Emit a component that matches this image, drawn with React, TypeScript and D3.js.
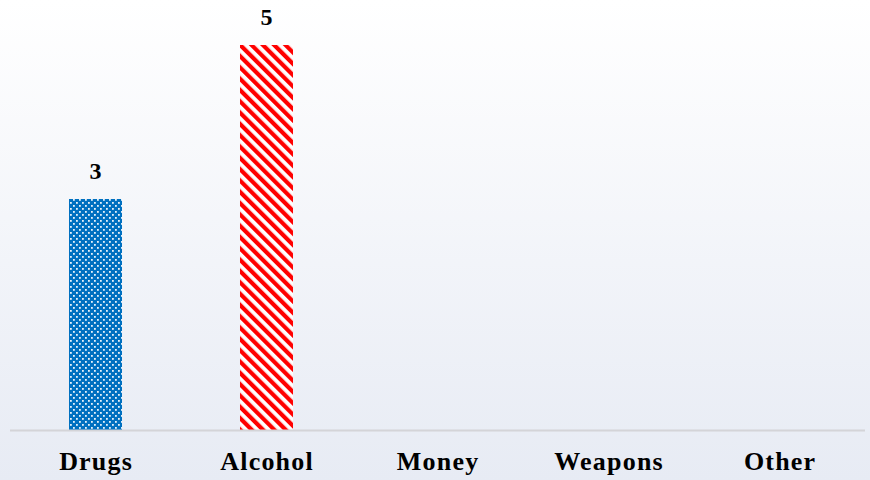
import React from "react";
import * as d3 from "d3";

const categories = ["Drugs", "Alcohol", "Money", "Weapons", "Other"];
const values = [3, 5, 0, 0, 0];
const fills = ["url(#dots)", "url(#stripes)", "#0070C0", "#0070C0", "#0070C0"];

const W = 870;
const H = 480;

export default function App() {
  const x = d3.scaleBand<string>().domain(categories).range([10, 865]).paddingInner(0.69).paddingOuter(0.345);
  const y = d3.scaleLinear().domain([0, 5]).range([430, 45]);

  return (
    <svg width={W} height={H} style={{ position: "absolute", left: 0, top: 0 }}>
      <defs>
        <linearGradient id="bg" x1="0" y1="0" x2="0" y2="1">
          <stop offset="0" stopColor="#ffffff" />
          <stop offset="1" stopColor="#e7ebf4" />
        </linearGradient>
        <pattern id="dots" width="6" height="6" patternUnits="userSpaceOnUse">
          <rect width="6" height="6" fill="#0070C0" />
          <rect x="1" y="1" width="1.8" height="1.8" fill="#ffffff" opacity="0.9" />
          <rect x="4" y="4" width="1.8" height="1.8" fill="#ffffff" opacity="0.9" />
        </pattern>
        <pattern id="stripes" width="8" height="8" patternUnits="userSpaceOnUse" patternTransform="rotate(-45)">
          <rect width="8" height="8" fill="#ffffff" />
          <rect width="4.2" height="8" fill="#ff0000" />
        </pattern>
      </defs>
      <rect width={W} height={H} fill="url(#bg)" />
      {categories.map((c, i) =>
        values[i] > 0 ? (
          <g key={c}>
            <rect
              x={x(c)}
              y={y(values[i])}
              width={x.bandwidth()}
              height={y(0) - y(values[i])}
              fill={fills[i]}
            />
            <text
              x={(x(c) as number) + x.bandwidth() / 2}
              y={y(values[i]) - 20}
              textAnchor="middle"
              fontFamily="'Liberation Serif', 'Times New Roman', serif"
              fontWeight="bold"
              fontSize={24}
              fill="#000"
            >
              {values[i]}
            </text>
          </g>
        ) : null
      )}
      <line x1={10} x2={865} y1={430.5} y2={430.5} stroke="#d4d4d8" strokeWidth={2} />
      {categories.map((c) => (
        <text
          key={c}
          x={(x(c) as number) + x.bandwidth() / 2 + 0.6}
          y={470}
          textAnchor="middle"
          fontFamily="'Liberation Serif', 'Times New Roman', serif"
          fontWeight="bold"
          fontSize={26}
          letterSpacing={1.2}
          fill="#000"
        >
          {c}
        </text>
      ))}
    </svg>
  );
}
